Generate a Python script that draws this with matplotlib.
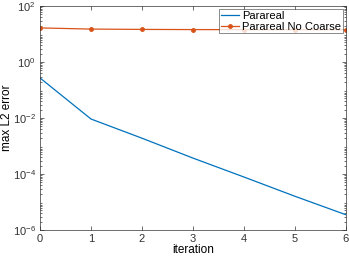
import matplotlib.pyplot as plt
from matplotlib.ticker import LogLocator, NullFormatter

iterations = [0, 1, 2, 3, 4, 5, 6]
parareal = [0.27, 0.0092, 1.9e-3, 3.7e-4, 7.8e-5, 1.6e-5, 3.5e-6]
no_coarse = [16.5, 15.0, 14.6, 14.4, 14.3, 14.2, 14.2]

plt.rcParams['font.family'] = ['Liberation Sans', 'DejaVu Sans']
plt.rcParams['mathtext.fontset'] = 'custom'
plt.rcParams['mathtext.rm'] = 'Liberation Sans'
plt.rcParams['mathtext.it'] = 'Liberation Sans'

fig = plt.figure(figsize=(3.49, 2.58), dpi=100)
ax = fig.add_axes([0.1146, 0.1085, 0.8768, 0.8682])

ax.semilogy(iterations, parareal, color='#0072BD', lw=0.9, label='Parareal')
ax.semilogy(iterations, no_coarse, color='#D95319', lw=0.9, marker='.', ms=5,
            label='Parareal No Coarse')

ax.set_xlim(0, 6)
ax.set_ylim(1e-6, 1e2)
ax.set_xticks(range(7))
ax.set_yticks([1e-6, 1e-4, 1e-2, 1e0, 1e2])
ax.set_yticklabels([r'$10^{-6}$', r'$10^{-4}$', r'$10^{-2}$', r'$10^{0}$', r'$10^{2}$'])
ax.yaxis.set_minor_locator(LogLocator(base=10, subs=range(2, 10), numticks=20))
ax.yaxis.set_minor_formatter(NullFormatter())

ax.tick_params(which='both', direction='in', top=True, right=True,
               labelsize=8, colors='#333333', width=0.5)
ax.tick_params(which='major', length=3, pad=3)
ax.tick_params(which='minor', length=1.5)
for s in ax.spines.values():
    s.set_linewidth(0.5)
    s.set_color('#333333')

ax.set_xlabel('iteration', fontsize=8.5, labelpad=0)
ax.set_ylabel('max L2 error', fontsize=8.5)
ax.yaxis.set_label_coords(-0.088, 0.5)

leg = ax.legend(loc='upper right', fontsize=8, frameon=True, fancybox=False,
                borderpad=0.15, labelspacing=0.05, handlelength=1.6,
                handletextpad=0.3, borderaxespad=0.3)
leg.get_frame().set_edgecolor('#333333')
leg.get_frame().set_linewidth(0.5)

fig.savefig('out.png', dpi=100)
